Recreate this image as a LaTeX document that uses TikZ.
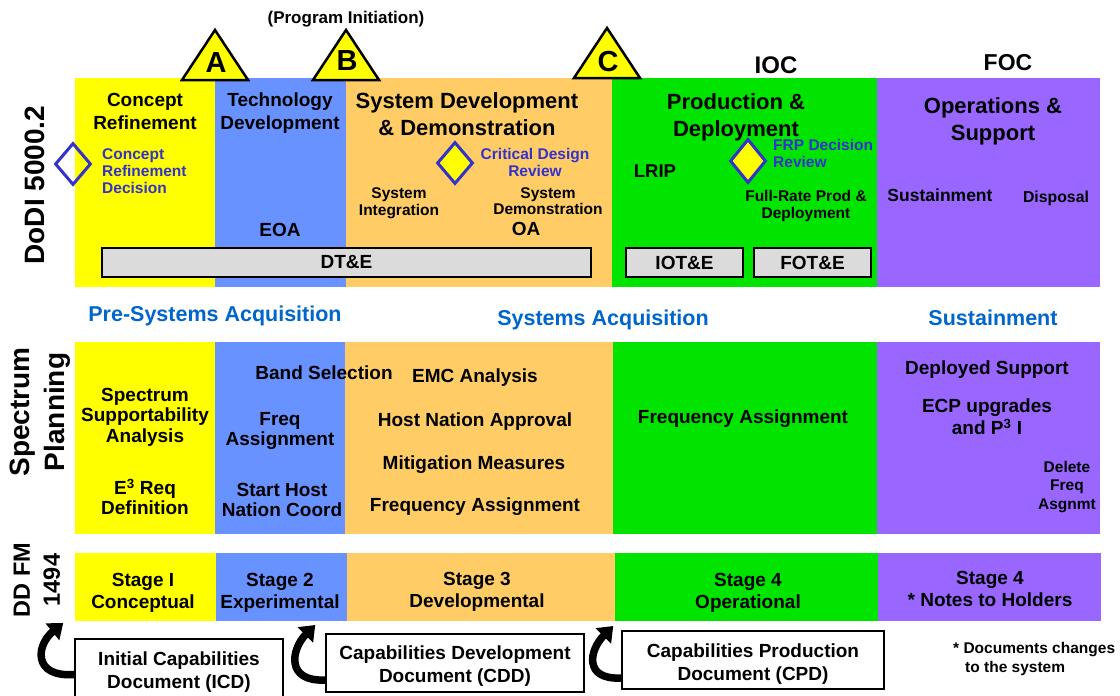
\documentclass[tikz,border=0pt]{standalone}
\usepackage{fontspec}
\setmainfont{Liberation Sans}
\usepackage{xcolor}
\usepackage{tikz}
\usetikzlibrary{arrows.meta,positioning,shapes.geometric,calc}
\definecolor{phYellow}{RGB}{255,255,0}
\definecolor{phBlue}{RGB}{104,146,255}
\definecolor{phOrange}{RGB}{255,204,102}
\definecolor{phGreen}{RGB}{0,228,0}
\definecolor{phPurple}{RGB}{153,102,255}
\definecolor{msBlue}{RGB}{51,51,204}
\definecolor{acqBlue}{RGB}{0,102,204}
\newcommand{\txtsize}[2]{\fontsize{#1}{#2}\selectfont\bfseries}

\begin{document}
\begin{tikzpicture}[x=1pt, y=-1pt,
  cell/.style={anchor=north west, inner sep=0pt, outer sep=0pt, minimum height=#1},
  head/.style={inner sep=0pt, align=center, font=\txtsize{19}{23}},
  bighead/.style={inner sep=0pt, align=center, font=\txtsize{22}{27}},
  item/.style={inner sep=0pt, align=center, font=\txtsize{19}{20.5}},
  stage/.style={inner sep=0pt, align=center, font=\txtsize{19}{22}},
  minor/.style={inner sep=0pt, align=center, font=\txtsize{15.5}{16.5}},
  mslabel/.style={inner sep=0pt, text=msBlue, font=\txtsize{15.5}{17}},
  acq/.style={inner sep=0pt, text=acqBlue, font=\txtsize{21.5}{24}},
  side/.style={inner sep=0pt, rotate=90, align=center},
  decision/.style={diamond, draw=msBlue, line width=3pt, inner sep=0pt, minimum width=36, minimum height=42},
  gate/.style={draw, line width=2.5pt, fill=phYellow, line join=miter},
  gateletter/.style={inner sep=0pt, font=\txtsize{29}{30}},
  testbox/.style={draw, line width=1.5pt, fill=black!14, inner sep=0pt, minimum width=117, minimum height=29, font=\txtsize{19}{21}},
  docbox/.style={draw, line width=1.5pt, fill=white, inner sep=0pt},
  doctext/.style={inner sep=0pt, align=center, font=\txtsize{19}{23}},
  docarrow/.style={line width=7.5pt, -{Triangle[length=14pt,width=21pt]}}
]
\useasboundingbox (0,0) rectangle (1120,696);
% DoDI 5000.2 phases
\node[cell=209, fill=phYellow, minimum width=140] (crBand) at (75,78) {};
\node[cell=209, fill=phBlue, minimum width=131] (tdBand) at (215,78) {};
\node[cell=209, fill=phOrange, minimum width=266] (sddBand) at (346,78) {};
\node[cell=209, fill=phGreen, minimum width=265] (pdBand) at (612,78) {};
\node[cell=209, fill=phPurple, minimum width=223] (osBand) at (877,78) {};
% spectrum planning
\node[cell=192, fill=phYellow, minimum width=140] (crSpec) at (75,342) {};
\node[cell=192, fill=phBlue, minimum width=130] (tdSpec) at (215,342) {};
\node[cell=192, fill=phOrange, minimum width=268] (sddSpec) at (345,342) {};
\node[cell=192, fill=phGreen, minimum width=264] (pdSpec) at (613,342) {};
\node[cell=192, fill=phPurple, minimum width=223] (osSpec) at (877,342) {};
% DD FM 1494 stages
\node[cell=68, fill=phYellow, minimum width=141] (stg1) at (75,553) {};
\node[cell=68, fill=phBlue, minimum width=131] (stg2) at (216,553) {};
\node[cell=68, fill=phOrange, minimum width=268] (stg3) at (347,553) {};
\node[cell=68, fill=phGreen, minimum width=263] (stg4) at (615,553) {};
\node[cell=68, fill=phPurple, minimum width=223] (stg5) at (878,553) {};
\node[stage] (stg1Text) at (143,592.5) {Stage I\\Conceptual};
\node[stage] (stg2Text) at (280,592.5) {Stage 2\\Experimental};
\node[stage] (stg3Text) at (477,591.5) {Stage 3\\Developmental};
\node[stage] (stg4Text) at (748,592.5) {Stage 4\\Operational};
\node[stage] (stg5Text) at (990,588.5) {Stage 4\\* Notes to Holders};

\draw[gate] (182,80) -- (215,30) -- (248,80) -- cycle;
\draw[gate] (313,80) -- (346,30) -- (379,80) -- cycle;
\draw[gate] (574,78) -- (607,28) -- (640,78) -- cycle;
\node[gateletter] (gateA) at (216,63) {A};
\node[gateletter] (gateB) at (347,61) {B};
\node[gateletter] (gateC) at (608,62) {C};
\node[inner sep=0pt, font=\txtsize{17}{20}] (init) at (346,19) {(Program Initiation)};
\node[inner sep=0pt, font=\txtsize{24}{26}] (ioc) at (776,65) {IOC};
\node[inner sep=0pt, font=\txtsize{23}{26}] (foc) at (1008,63) {FOC};

\node[side, font=\txtsize{28}{30}] (dodi) at (35,185) {DoDI 5000.2};
\node[side, font=\txtsize{28}{35}] (spec) at (40,412) {Spectrum\\Planning};
\node[side, font=\txtsize{23.5}{30}] (ddfm) at (37,580) {DD FM\\1494};

\node[head] (crHead) at (145,111) {Concept\\Refinement};
\node[head] (tdHead) at (280,113) {Technology\\Development};
\node[bighead] (sddHead) at (467,114) {System Development\\\& Demonstration};
\node[bighead] (pdHead) at (736,117) {Production \&\\Deployment};
\node[bighead] (osHead) at (993,121) {Operations \&\\Support};

\node[decision] (crd) at (73,164) {};
\node[decision, fill=phYellow] (cdr) at (455,163) {};
\node[decision, fill=phYellow, minimum height=44] (frp) at (748,161) {};
\node[mslabel, anchor=west, align=left] (crdText) at (102,171) {Concept\\Refinement\\Decision};
\node[mslabel, align=center] (cdrText) at (535,162) {Critical Design\\Review};
\node[mslabel, anchor=west, align=left] (frpText) at (773,153) {FRP Decision\\Review};

\node[minor] (sysInt) at (399,203) {System\\Integration};
\node[minor] (sysDemo) at (548,201) {System\\Demonstration};
\node[minor] (frpd) at (806,206) {Full-Rate Prod \&\\Deployment};
\node[head] (eoa) at (280,230) {EOA};
\node[head] (oa) at (526,229) {OA};
\node[inner sep=0pt, font=\txtsize{18.5}{20}] (lrip) at (655,171) {LRIP};
\node[inner sep=0pt, font=\txtsize{17.5}{20}] (sust) at (940,195) {Sustainment};
\node[inner sep=0pt, font=\txtsize{15.8}{18}] (disp) at (1056,198) {Disposal};

\node[testbox, minimum width=489] (dte) at (346.5,262.5) {DT\&E};
\node[testbox] (iote) at (684.5,262.5) {IOT\&E};
\node[testbox] (fote) at (812.5,262.5) {FOT\&E};

\node[acq] (preAcq) at (215,316) {Pre-Systems Acquisition};
\node[acq] (sysAcq) at (603,320) {Systems Acquisition};
\node[acq] (sustAcq) at (993,318) {Sustainment};

\node[item] (ssa) at (145,417) {Spectrum\\Supportability\\Analysis};
\node[item] (e3req) at (145,497) {E\textsuperscript{3} Req\\Definition};
\node[item] (band) at (324,373) {Band Selection};
\node[item] (freqTd) at (280,431) {Freq\\Assignment};
\node[item] (hostTd) at (282,500) {Start Host\\Nation Coord};
\node[item] (emc) at (475,378) {EMC Analysis};
\node[item] (hostSdd) at (475,422) {Host Nation Approval};
\node[item] (mitig) at (474,465) {Mitigation Measures};
\node[item] (freqSdd) at (475,507) {Frequency Assignment};
\node[item] (freqPd) at (743,419) {Frequency Assignment};
\node[item] (depSup) at (987,370) {Deployed Support};
\node[item, font=\txtsize{19}{22}] (ecp) at (987,417) {ECP upgrades\\and P\textsuperscript{3} I};
\node[minor, font=\txtsize{15.5}{18.5}] (delFreq) at (1067,487) {Delete\\Freq\\Asgnmt};

\node[docbox, minimum width=208, minimum height=61] (icd) at (179,669.5) {};
\node[docbox, minimum width=258, minimum height=58] (cdd) at (455,663) {};
\node[docbox, minimum width=262, minimum height=58] (cpd) at (753,660) {};
\node[doctext] (icdText) at ($(icd.center)+(0,2.5)$) {Initial Capabilities\\Document (ICD)};
\node[doctext] (cddText) at ($(cdd.center)+(0,3.5)$) {Capabilities Development\\Document (CDD)};
\node[doctext] (cpdText) at ($(cpd.center)+(0,4)$) {Capabilities Production\\Document (CPD)};
\node[inner sep=0pt, anchor=west, align=left, font=\txtsize{15.5}{19}] (fnote) at (953,659) {* Documents changes\\\hspace{12pt}to the system};

\draw[docarrow] ([yshift=-5pt]icd.west) .. controls +(-42,3) and +(-27,22) .. ($(icd.west |- stg1.south)+(-11,2)$);
\draw[docarrow] ([yshift=-17pt]cdd.west) .. controls +(-40,2) and +(-24,24) .. ($(cdd.west |- stg2.south)+(-10,4)$);
\draw[docarrow] ([yshift=-18pt]cpd.west) .. controls +(-38,2) and +(-24,24) .. ($(cpd.west |- stg4.south)+(-8,5)$);
\end{tikzpicture}
\end{document}
